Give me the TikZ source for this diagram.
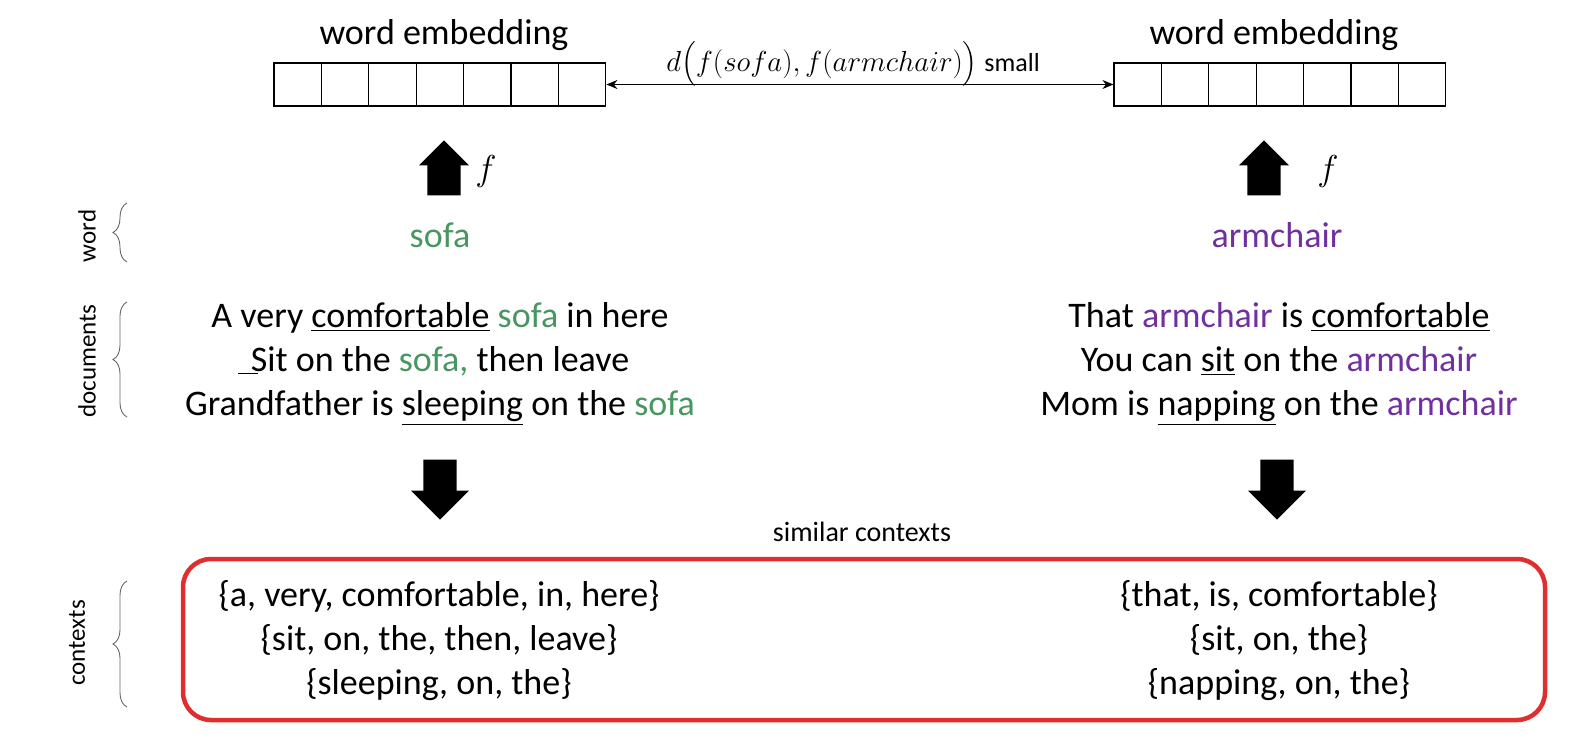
\RequirePackage{fix-cm}
\documentclass[tikz,border=0pt]{standalone}
\usepackage{amsmath}
\usepackage{fontspec}
\setmainfont{Carlito}
\usepackage{tikz}
\usetikzlibrary{arrows.meta,shapes.arrows,decorations.pathreplacing}

\definecolor{sofagreen}{RGB}{72,150,96}
\definecolor{chairpurple}{RGB}{112,48,160}
\definecolor{ctxred}{RGB}{224,45,45}

\newcommand{\sofa}[1]{\textcolor{sofagreen}{#1}}
\newcommand{\chair}[1]{\textcolor{chairpurple}{#1}}
\newcommand{\offul}{\makebox[0pt][r]{\rule[-3pt]{20pt}{1.2pt}\kern-7pt}}

\begin{document}
\begin{tikzpicture}[x=1pt,y=-1pt,
    every node/.style={font=\fontsize{36}{44}\selectfont, inner sep=0pt},
    cell/.style={draw, line width=1.2pt, minimum width=47.4pt, minimum height=43pt},
    side/.style={font=\fontsize{25}{30}\selectfont, rotate=90},
    grp/.style={decorate, decoration={brace, amplitude=14pt}, draw=black!60, line width=0.9pt},
    fatup/.style={single arrow, shape border rotate=90, fill=black, inner sep=16.5pt, minimum height=55pt, single arrow head extend=8.5pt, anchor=tip},
    fatdown/.style={single arrow, shape border rotate=270, fill=black, inner sep=16.5pt, minimum height=60pt, single arrow head extend=12.5pt, anchor=tip}]
    \useasboundingbox (0,0) rectangle (1594,742);

    % embeddings
    \foreach \i in {1,...,7} {
        \node[cell] (eL\i) at ({274+23.7+(\i-1)*47.4},84.5) {};
        \node[cell] (eR\i) at ({1114+23.7+(\i-1)*47.4},84.5) {};
    }
    \node[anchor=base] (tL) at (444,44) {word embedding};
    \node[anchor=base] (tR) at (1274,44) {word embedding};
    \draw[{Stealth[length=11pt,width=9pt]}-{Stealth[length=11pt,width=9pt]}, line width=1.5pt] (eL7.east) -- (eR1.west);
    \node[anchor=base, font=\fontsize{29}{34}\selectfont] (dist) at (853,71)
        {$d\bigl(f(sofa),f(armchair)\bigr)$ {\fontsize{26}{30}\selectfont small}};

    % f arrows
    \node[fatup] (uL) at (444,140) {};
    \node[fatup] (uR) at (1264,140) {};
    \node[anchor=base] (fL) at (486,180) {$f$};
    \node[anchor=base] (fR) at (1328,180) {$f$};

    % words
    \node[anchor=base] (wL) at (440,247) {\sofa{sofa}};
    \node[anchor=base] (wR) at (1277,247) {\chair{armchair}};

    % documents
    \foreach \t [count=\k] in {{A very \underline{comfortable} \sofa{sofa} in here},
                               {\offul Sit on the \sofa{sofa,} then leave},
                               {Grandfather is \underline{sleeping} on the \sofa{sofa}}}
        \node[anchor=base] (dL\k) at (440,{327+44*(\k-1)}) {\t};
    \foreach \t [count=\k] in {{That \chair{armchair} is \underline{comfortable}},
                               {You can \underline{sit} on the \chair{armchair}},
                               {Mom is \underline{napping} on the \chair{armchair}}}
        \node[anchor=base] (dR\k) at (1279,{327+44*(\k-1)}) {\t};

    \node[fatdown] (aL) at (440,520) {};
    \node[fatdown] (aR) at (1277,520) {};

    % contexts
    \node[anchor=base, font=\fontsize{28}{34}\selectfont] (sim) at (862,541) {similar contexts};
    \draw[ctxred, line width=4.5pt, rounded corners=28pt] (183,559) rectangle (1545,720);
    \foreach \t [count=\k] in {{\{a, very, comfortable, in, here\}},
                               {\{sit, on, the, then, leave\}},
                               {\{sleeping, on, the\}}}
        \node[anchor=base] (cL\k) at (439,{606+44*(\k-1)}) {\t};
    \foreach \t [count=\k] in {{\{that, is, comfortable\}},
                               {\{sit, on, the\}},
                               {\{napping, on, the\}}}
        \node[anchor=base] (cR\k) at (1279,{606+44*(\k-1)}) {\t};

    % side labels
    \node[side] (lw) at (87,236) {word};
    \node[side] (ld) at (87,361) {documents};
    \node[side] (lc) at (77,643) {contexts};
    \draw[grp] (127,262) -- (127,203);
    \draw[grp] (127,417) -- (127,302);
    \draw[grp] (127,707) -- (127,581);
\end{tikzpicture}
\end{document}
